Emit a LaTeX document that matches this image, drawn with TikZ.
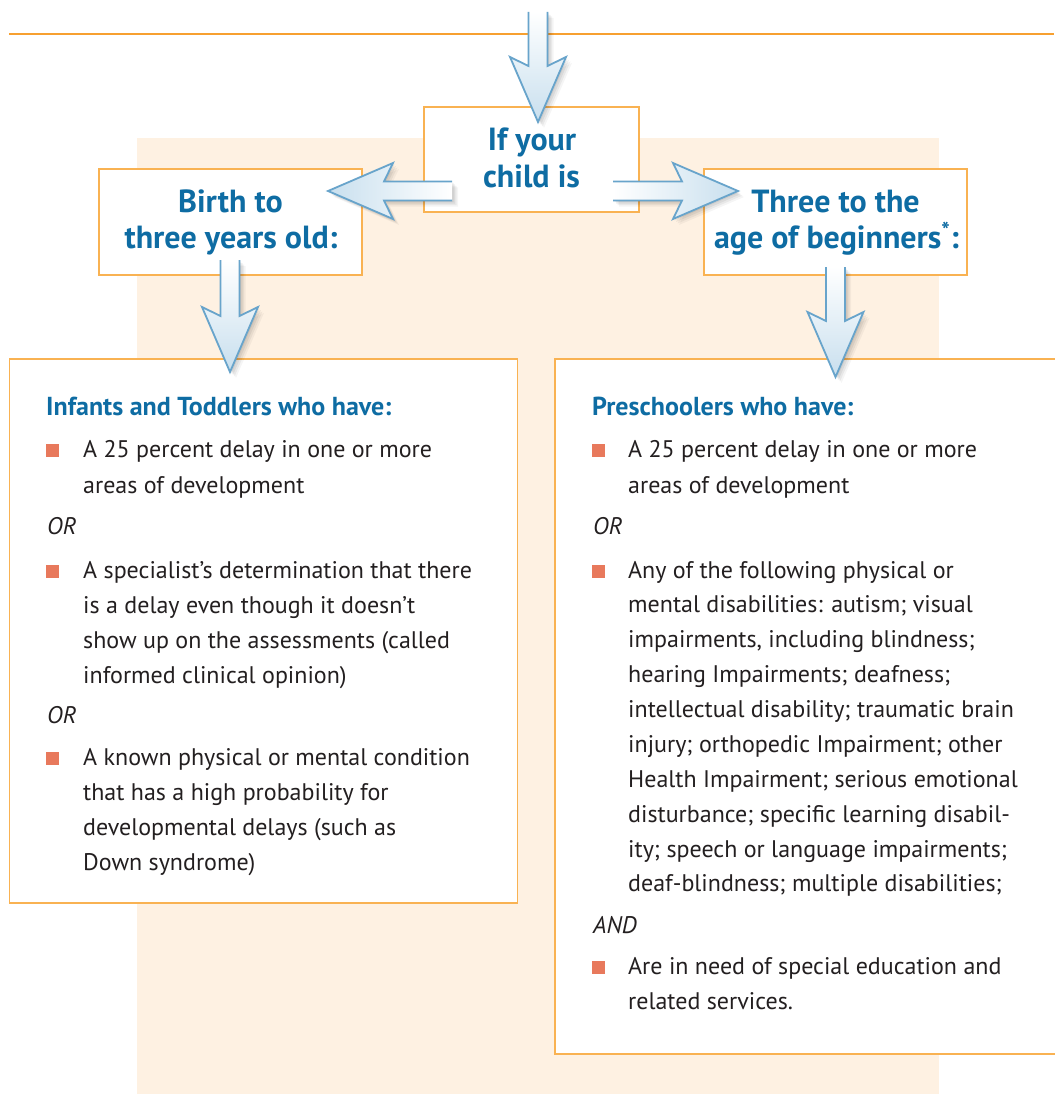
\documentclass[tikz,border=0pt]{standalone}
\usepackage{fontspec}
\setmainfont{PT Sans}
\usetikzlibrary{calc}
\definecolor{tblue}{RGB}{14,108,163}
\definecolor{obord}{RGB}{249,178,82}
\definecolor{oline}{RGB}{247,160,48}
\definecolor{peach}{RGB}{254,241,226}
\definecolor{bsq}{RGB}{232,121,92}
\definecolor{abord}{RGB}{104,164,203}
\definecolor{afill}{RGB}{200,223,238}
\definecolor{btext}{RGB}{35,31,32}
\tikzset{
 obox/.style={draw=obord, line width=1.3pt, fill=white, inner sep=0pt},
 titletext/.style={text=tblue, font=\bfseries\fontsize{32}{36}\selectfont, inner sep=0pt, anchor=base},
 headtext/.style={text=tblue, font=\bfseries\fontsize{26}{30}\selectfont, inner sep=0pt, anchor=base west},
 bodytext/.style={text=btext, font=\fontsize{24}{35}\selectfont, inner sep=0pt, anchor=base west},
 ortext/.style={text=btext, font=\itshape\fontsize{24}{35}\selectfont, inner sep=0pt, anchor=base west},
 bsquare/.style={fill=bsq, minimum size=13pt, inner sep=0pt, draw=none},
 arrowline/.style={draw=abord, line width=1.8pt, line join=miter},
 softshadow/.style={
   preaction={fill=black, opacity=.06, transform canvas={shift={(1.5pt,-1.5pt)}}},
   preaction={fill=black, opacity=.06, transform canvas={shift={(3pt,-3pt)}}},
   preaction={fill=black, opacity=.05, transform canvas={shift={(4.5pt,-4.5pt)}}},
   preaction={fill=black, opacity=.04, transform canvas={shift={(6pt,-6pt)}}}},
}
\newcommand\fatarrow[3]{%
  \path[#3, softshadow]
    ($(#1)!9.5pt!90:(#2)$) -- ($(#2)!56pt!(#1)!9.5pt!90:(#2)$) -- ($(#2)!65pt!(#1)!28pt!90:(#2)$)
    -- (#2) -- ($(#2)!65pt!(#1)!28pt!-90:(#2)$) -- ($(#2)!56pt!(#1)!9.5pt!-90:(#2)$)
    -- ($(#1)!9.5pt!-90:(#2)$) -- cycle;
  \draw[arrowline]
    ($(#1)!9.5pt!90:(#2)$) -- ($(#2)!56pt!(#1)!9.5pt!90:(#2)$) -- ($(#2)!65pt!(#1)!28pt!90:(#2)$)
    -- (#2) -- ($(#2)!65pt!(#1)!28pt!-90:(#2)$) -- ($(#2)!56pt!(#1)!9.5pt!-90:(#2)$)
    -- ($(#1)!9.5pt!-90:(#2)$);
}
\begin{document}
\begin{tikzpicture}[x=1pt,y=-1pt]
\useasboundingbox (0,0) rectangle (1054,1094);
\fill[white] (0,0) rectangle (1054,1094);
% background panel
\fill[peach] (137,138) rectangle (939,1094);
% header rule
\coordinate (hl) at (9,34);
\coordinate (hr) at (1054,34);
\draw[oline, line width=1.2pt] (hl) -- (hr);
% boxes
\node[obox, minimum width=508pt, minimum height=544pt] (leftbig) at (263.75,631) {};
\node[obox, minimum width=505pt, minimum height=695pt] (rightbig) at (807.5,706.5) {};
\node[obox, minimum width=263pt, minimum height=106pt] (birth) at (230.5,222) {};
\node[obox, minimum width=263pt, minimum height=106pt] (three) at (835.5,222) {};
\node[obox, minimum width=215pt, minimum height=105pt] (ifbox) at (531.5,159.5) {};
% arrow end points
\coordinate (a0s) at (538,12);    \coordinate (a0t) at (538,122);
\coordinate (a1s) at (452,191);   \coordinate (a1t) at (328,191);
\coordinate (a2s) at (613,191);   \coordinate (a2t) at (738,191);
\coordinate (a3s) at (230,260);   \coordinate (a3t) at (230,372);
\coordinate (a4s) at (835.5,267); \coordinate (a4t) at (835.5,377);
\fatarrow{a0s}{a0t}{top color=white, bottom color=afill}
\fatarrow{a1s}{a1t}{right color=white, left color=afill}
\fatarrow{a2s}{a2t}{left color=white, right color=afill}
\fatarrow{a3s}{a3t}{top color=white, bottom color=afill}
\fatarrow{a4s}{a4t}{top color=white, bottom color=afill}
% titles
\node[titletext] (t1) at (532,151) {If your};
\node[titletext] (t2) at (531.5,187) {child is};
\node[titletext] (t3) at (230.5,212) {Birth to};
\node[titletext] (t4) at (231,248) {three years old:};
\node[titletext] (t5) at (835.5,212) {Three to the};
\node[titletext] (t6) at (836.5,248) {age of beginners\textsuperscript{*}:};
% left panel
\node[headtext] (lh) at (46,415) {Infants and Toddlers who have:};
\node[bsquare] (lb1) at (52.5,450.5) {};
\node[bodytext] (l1) at (83,457) {A 25 percent delay in one or more};
\node[bodytext] (l2) at (83,493) {areas of development};
\node[ortext] (lor1) at (47,534) {OR};
\node[bsquare] (lb2) at (52.5,571.5) {};
\node[bodytext] (l3) at (83,578) {A specialist’s determination that there};
\node[bodytext] (l4) at (83,613) {is a delay even though it doesn’t};
\node[bodytext] (l5) at (83,648) {show up on the assessments (called};
\node[bodytext] (l6) at (83,683) {informed clinical opinion)};
\node[ortext] (lor2) at (47,723) {OR};
\node[bsquare] (lb3) at (52.5,758.5) {};
\node[bodytext] (l7) at (83,765) {A known physical or mental condition};
\node[bodytext] (l8) at (83,800) {that has a high probability for};
\node[bodytext] (l9) at (83,835) {developmental delays (such as};
\node[bodytext] (l10) at (83,870) {Down syndrome)};
% right panel
\node[headtext] (rh) at (592,415) {Preschoolers who have:};
\node[bsquare] (rb1) at (598.5,450.5) {};
\node[bodytext] (r1) at (628,457) {A 25 percent delay in one or more};
\node[bodytext] (r2) at (628,493) {areas of development};
\node[ortext] (ror) at (593,534) {OR};
\node[bsquare] (rb2) at (598.5,571.5) {};
\node[bodytext] (r3) at (628,578) {Any of the following physical or};
\node[bodytext] (r4) at (628,612) {mental disabilities: autism; visual};
\node[bodytext] (r5) at (628,647) {impairments, including blindness;};
\node[bodytext] (r6) at (628,682) {hearing Impairments; deafness;};
\node[bodytext] (r7) at (628,717) {intellectual disability; traumatic brain};
\node[bodytext] (r8) at (628,752) {injury; orthopedic Impairment; other};
\node[bodytext] (r9) at (628,787) {Health Impairment; serious emotional};
\node[bodytext] (r10) at (628,822) {disturbance; specific learning disabil-};
\node[bodytext] (r11) at (628,857) {ity; speech or language impairments;};
\node[bodytext] (r12) at (628,891) {deaf-blindness; multiple disabilities;};
\node[ortext] (rand) at (593,933) {AND};
\node[bsquare] (rb3) at (598.5,967.5) {};
\node[bodytext] (r13) at (628,974) {Are in need of special education and};
\node[bodytext] (r14) at (628,1009) {related services.};
\end{tikzpicture}
\end{document}
